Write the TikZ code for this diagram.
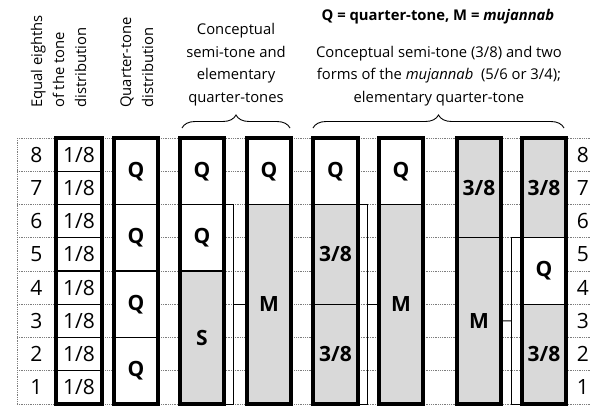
\documentclass[tikz,border=0pt]{standalone}
\usepackage{fontspec}
\setmainfont{Open Sans}
\usetikzlibrary{decorations.pathreplacing}
\definecolor{cellgray}{RGB}{217,217,217}
\definecolor{dotgray}{RGB}{125,125,125}
\newcommand\mkcell[7]{% name, x1, x2, i1, i2, fill, label
  \node[cell, fill=#6, minimum width={#3-#2}, minimum height={(#5-#4)*33.25}] (#1)
    at ({(#2+#3)/2},{138+(#4+#5)/2*33.25}) {#7};}
\newcommand\mkframe[3]{% name, x1, x2
  \draw[colframe] (#2,138) rectangle (#3,404);
  \coordinate (#1) at ({(#2+#3)/2},404);}
\begin{document}
\begin{tikzpicture}[x=1pt,y=-1pt,
  cell/.style={draw=black, line width=1.4pt, inner sep=0pt, outer sep=0pt, rectangle,
     font=\fontsize{21}{24}\selectfont\bfseries},
  colframe/.style={draw=black, line width=3.2pt},
  gridline/.style={dotgray, line width=0.9pt, dash pattern=on 0.9pt off 0.9pt},
  bracketline/.style={black, line width=0.9pt},
  rownum/.style={font=\fontsize{21}{24}\selectfont, inner sep=0pt},
  head/.style={font=\fontsize{14.8}{17}\selectfont, inner sep=0pt},
  bracestyle/.style={black, line width=0.9pt, decorate, decoration={brace, amplitude=13pt}}
]
\useasboundingbox (0,0) rectangle (590,405);
\fill[white] (0,0) rectangle (590,405);

% dotted grid
\foreach \i in {0,...,8} {
  \draw[gridline] (17,{138+\i*33.25}) -- (590,{138+\i*33.25});
}
\draw[gridline] (17,138) -- (17,404);

% row numbers
\foreach \n in {1,...,8} {
  \node[rownum] (L\n) at (36.5,{138+(8-\n+0.5)*33.25}) {\n};
  \node[rownum] (R\n) at (583,{138+(8-\n+0.5)*33.25}) {\n};
}

% column 1: eighths
\foreach \i in {0,...,7} {
  \mkcell{a\i}{56}{102}{\i}{\i+1}{white}{\mdseries 1/8}
}
\mkframe{fa}{56}{102}

% column 2: quarter-tones
\mkcell{b1}{114}{158}{0}{2}{white}{Q}
\mkcell{b2}{114}{158}{2}{4}{white}{Q}
\mkcell{b3}{114}{158}{4}{6}{white}{Q}
\mkcell{b4}{114}{158}{6}{8}{white}{Q}
\mkframe{fb}{114}{158}

% column 3
\mkcell{c1}{180}{224}{0}{2}{white}{Q}
\mkcell{c2}{180}{224}{2}{4}{white}{Q}
\mkcell{c3}{180}{224}{4}{8}{cellgray}{S}
\mkframe{fc}{180}{224}

% column 4
\mkcell{d1}{247}{291}{0}{2}{white}{Q}
\mkcell{d2}{247}{291}{2}{8}{cellgray}{M}
\mkframe{fd}{247}{291}

% column 5
\mkcell{e1}{313}{358}{0}{2}{white}{Q}
\mkcell{e2}{313}{358}{2}{5}{cellgray}{3/8}
\mkcell{e3}{313}{358}{5}{8}{cellgray}{3/8}
\mkframe{fe}{313}{358}

% column 6
\mkcell{g1}{379}{423}{0}{2}{white}{Q}
\mkcell{g2}{379}{423}{2}{8}{cellgray}{M}
\mkframe{fg}{379}{423}

% column 7
\mkcell{h1}{457}{501}{0}{3}{cellgray}{3/8}
\mkcell{h2}{457}{501}{3}{8}{cellgray}{M}
\mkframe{fh}{457}{501}

% column 8
\mkcell{k1}{522}{566}{0}{3}{cellgray}{3/8}
\mkcell{k2}{522}{566}{3}{5}{white}{Q}
\mkcell{k3}{522}{566}{5}{8}{cellgray}{3/8}
\mkframe{fk}{522}{566}

% brackets
\draw[bracketline] (c2.north east) -| (233,404) -- (c3.south east);
\draw[bracketline] (233,304.25) -- (d2.west |- 0,304.25);
\draw[bracketline] (e2.north east) -| (367,404) -- (e3.south east);
\draw[bracketline] (367,304.25) -- (g2.west |- 0,304.25);
\draw[bracketline] (k2.north west) -| (511,404) -- (k3.south west);
\draw[bracketline] (511,320.9) -- (h2.east);

% headers
\node[head, rotate=90, anchor=base west] (t1) at (42,108) {Equal eighths};
\node[head, rotate=90, anchor=base west] (t2) at (64,108) {of the tone};
\node[head, rotate=90, anchor=base west] (t3) at (86,108) {distribution};
\node[head, rotate=90, anchor=base west] (t4) at (131,108) {Quarter-tone};
\node[head, rotate=90, anchor=base west] (t5) at (153,108) {distribution};

\node[head, anchor=base] (u1) at (236,34.5) {Conceptual};
\node[head, anchor=base] (u2) at (236,57) {semi-tone and};
\node[head, anchor=base] (u3) at (236,79.5) {elementary};
\node[head, anchor=base] (u4) at (236,102) {quarter-tones};

\node[head, anchor=base, font=\fontsize{14.8}{17}\selectfont\bfseries] (v0) at (438,20.5)
  {Q = quarter-tone, M = \textit{mujannab}};
\node[head, anchor=base] (v1) at (439,57) {Conceptual semi-tone (3/8) and two};
\node[head, anchor=base] (v2) at (439,79.5) {forms of the \textit{mujannab}\ \ (5/6 or 3/4);};
\node[head, anchor=base] (v3) at (439,102) {elementary quarter-tone};

\draw[bracestyle] (182,128) -- (290,128);
\draw[bracestyle] (313,128) -- (564,128);
\end{tikzpicture}
\end{document}
